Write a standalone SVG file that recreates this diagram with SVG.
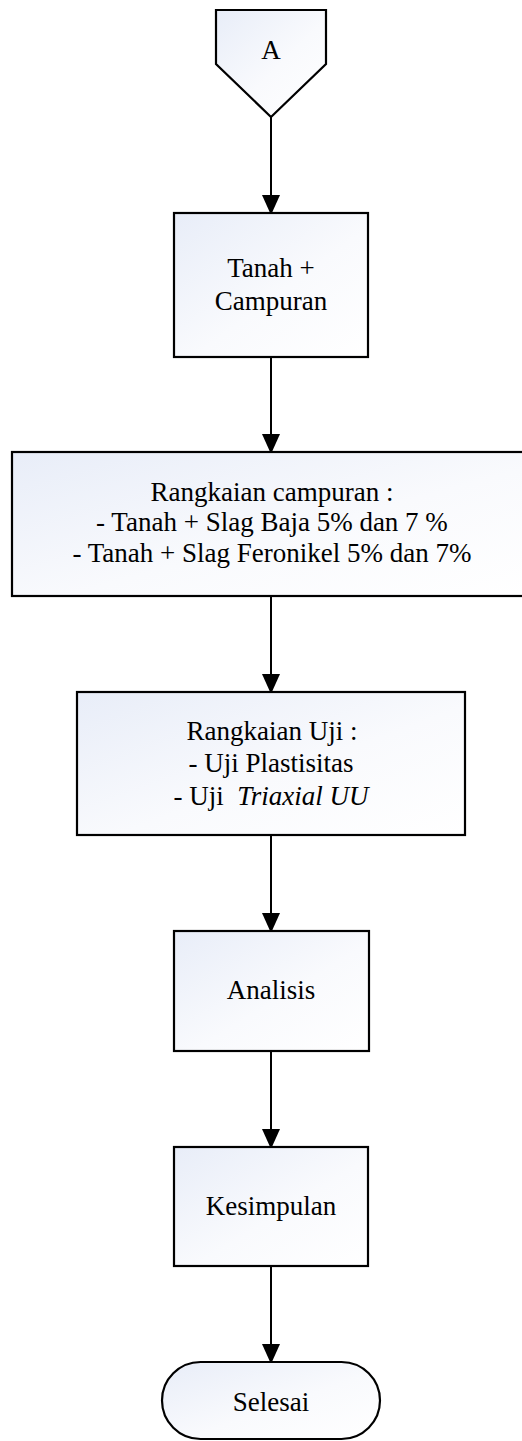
<svg xmlns="http://www.w3.org/2000/svg" width="522" height="1441" viewBox="0 0 522 1441">
<defs>
<linearGradient id="fill" x1="0" y1="0" x2="1" y2="1">
<stop offset="0" stop-color="#e8edf8"/>
<stop offset="0.55" stop-color="#f9fafd"/>
<stop offset="1" stop-color="#ffffff"/>
</linearGradient>
<marker id="arr" markerWidth="10" markerHeight="10" refX="9" refY="4.5" orient="auto" markerUnits="strokeWidth" viewBox="0 0 10 9">
<path d="M0,0 L10,4.5 L0,9 Z" fill="#000"/>
</marker>
</defs>
<style>
.shape{fill:url(#fill);stroke:#000;stroke-width:2.2}
.t{font-family:"Liberation Serif","Times New Roman",serif;font-size:27px;fill:#000;text-anchor:middle}
.c{stroke:#000;stroke-width:2;fill:none;marker-end:url(#arr)}
</style>
<g id="connectors">
<line class="c" x1="271" y1="117" x2="271" y2="213"/>
<line class="c" x1="271" y1="357" x2="271" y2="452"/>
<line class="c" x1="271" y1="596" x2="271" y2="692"/>
<line class="c" x1="271" y1="835" x2="271" y2="931"/>
<line class="c" x1="271" y1="1051" x2="271" y2="1147"/>
<line class="c" x1="271" y1="1266" x2="271" y2="1362"/>
</g>
<g id="node-A">
<polygon class="shape" points="216,10 326,10 326,64 271,117 216,64"/>
<text class="t" x="271" y="59">A</text>
</g>
<g id="node-tanah">
<rect class="shape" x="174" y="213" width="194" height="144"/>
<text class="t" x="271" y="277">Tanah +</text>
<text class="t" x="271" y="310">Campuran</text>
</g>
<g id="node-campuran">
<rect class="shape" x="12" y="452" width="520" height="144"/>
<text class="t" x="272" y="501">Rangkaian campuran :</text>
<text class="t" x="272" y="531">- Tanah + Slag Baja 5% dan 7 %</text>
<text class="t" x="272" y="562">- Tanah + Slag Feronikel 5% dan 7%</text>
</g>
<g id="node-uji">
<rect class="shape" x="77" y="692" width="388" height="143"/>
<text class="t" x="272" y="740">Rangkaian Uji :</text>
<text class="t" x="271" y="772">- Uji Plastisitas</text>
<text class="t" x="271" y="805" xml:space="preserve">- Uji  <tspan font-style="italic">Triaxial UU</tspan></text>
</g>
<g id="node-analisis">
<rect class="shape" x="174" y="931" width="195" height="120"/>
<text class="t" x="271" y="999">Analisis</text>
</g>
<g id="node-kesimpulan">
<rect class="shape" x="174" y="1147" width="194" height="119"/>
<text class="t" x="271" y="1215">Kesimpulan</text>
</g>
<g id="node-selesai">
<rect class="shape" x="162" y="1362" width="218" height="77" rx="38.5" ry="38.5"/>
<text class="t" x="271" y="1411">Selesai</text>
</g>
</svg>
